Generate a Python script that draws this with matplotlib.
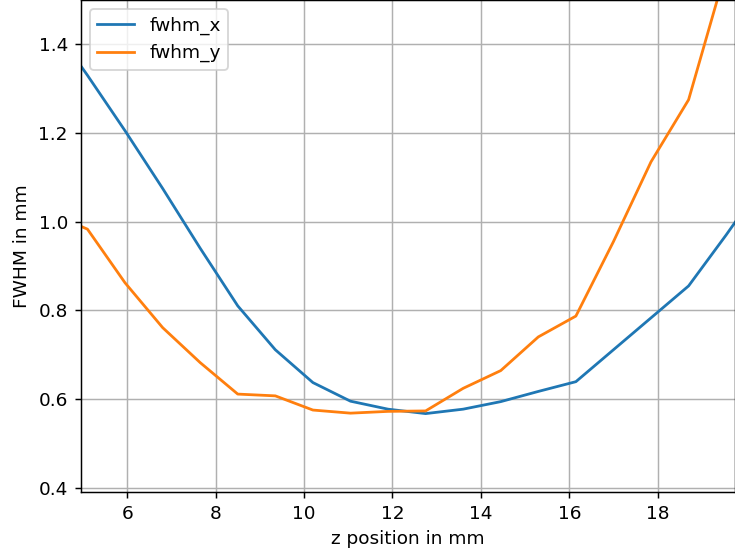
import matplotlib
matplotlib.use('Agg')
import matplotlib.pyplot as plt

# z positions of the measurements (mm)
z = [4.25, 5.1, 5.95, 6.8, 7.65, 8.5, 9.35, 10.2, 11.05, 11.9,
     12.75, 13.6, 14.45, 15.3, 16.15, 17.0, 17.85, 18.7, 19.55, 20.4]

fwhm_x = [1.45, 1.33, 1.205, 1.075, 0.94, 0.81, 0.711, 0.637, 0.595, 0.577,
          0.567, 0.577, 0.594, 0.617, 0.639, 0.711, 0.783, 0.855, 0.97, 1.09]
fwhm_y = [1.02, 0.983, 0.862, 0.761, 0.682, 0.611, 0.607, 0.575, 0.568, 0.572,
          0.573, 0.624, 0.664, 0.740, 0.787, 0.955, 1.135, 1.275, 1.57, 1.8]

# drawn at a higher dpi, so text and lines come out bigger
dpi = 133
fig = plt.figure(figsize=(735 / dpi, 556 / dpi), dpi=dpi)
ax = fig.add_axes([0.110, 0.115, 0.890, 0.885])

ax.plot(z, fwhm_x, label='fwhm_x')
ax.plot(z, fwhm_y, label='fwhm_y')

ax.set_xlim(4.95, 19.75)
ax.set_ylim(0.39, 1.5)
ax.set_xlabel('z position in mm')
ax.set_ylabel('FWHM in mm')
ax.grid(True)
ax.legend(loc='upper left')

fig.savefig('out.png', dpi=dpi)
